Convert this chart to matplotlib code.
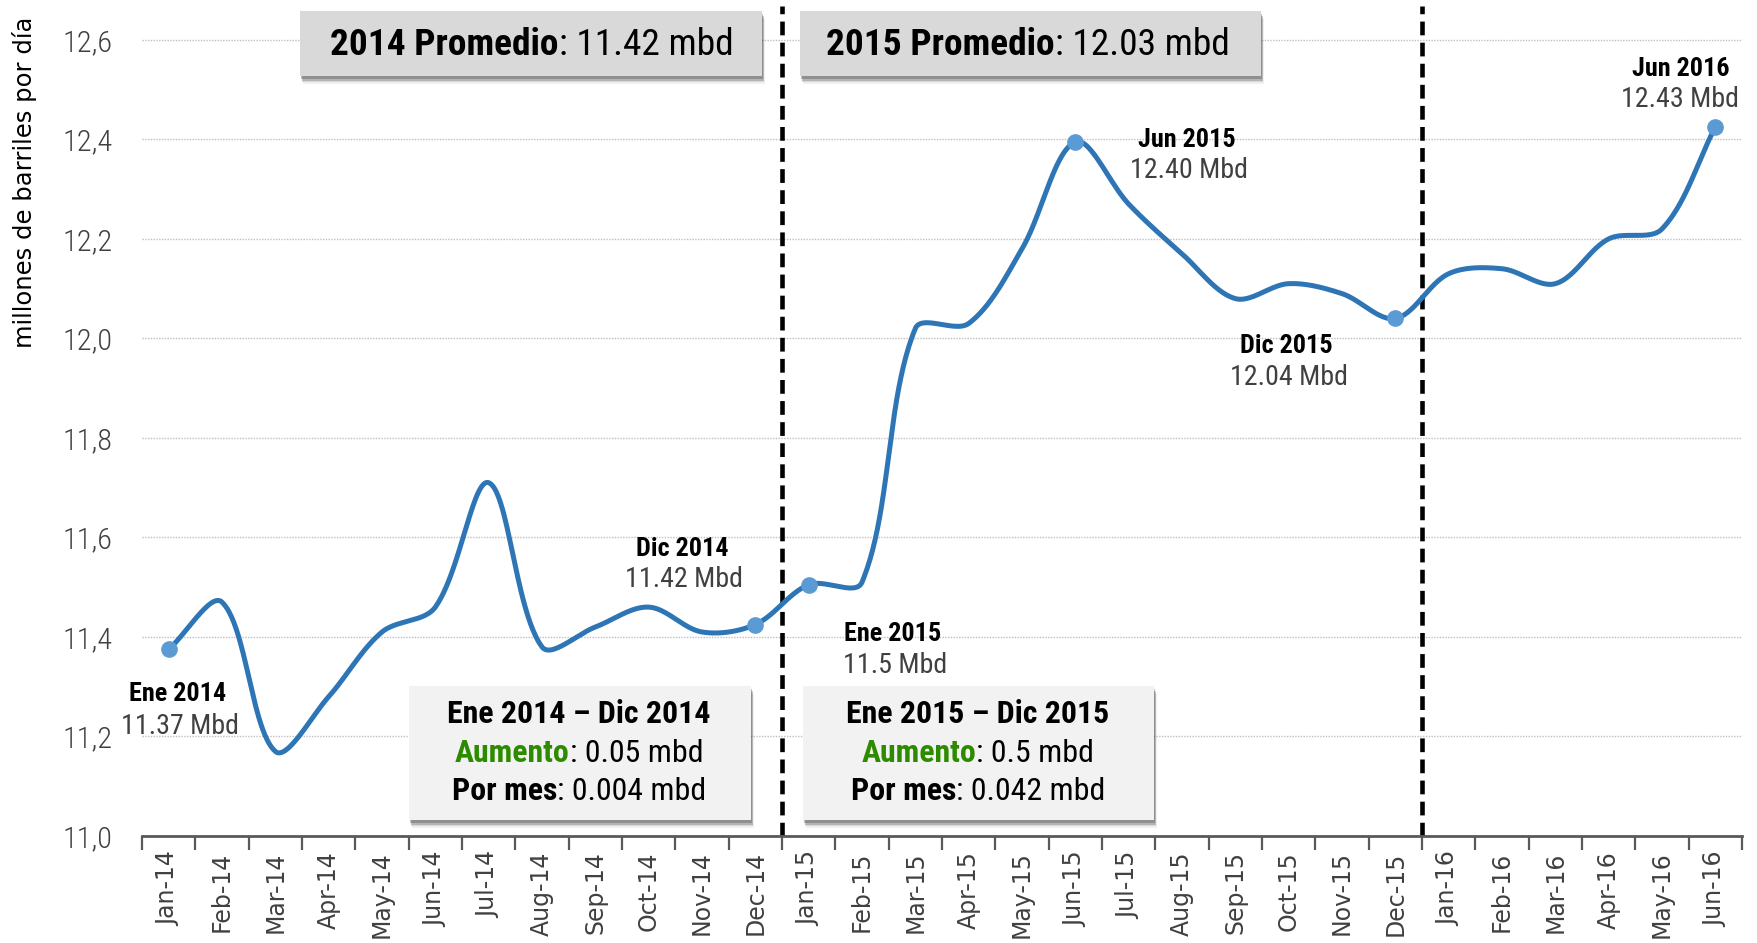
import numpy as np
import matplotlib
matplotlib.use("Agg")
import matplotlib.pyplot as plt
from matplotlib.patches import Rectangle
from matplotlib.transforms import IdentityTransform
from matplotlib import font_manager as fm

# ---------------- data ----------------
months = ["Jan-14", "Feb-14", "Mar-14", "Apr-14", "May-14", "Jun-14", "Jul-14", "Aug-14",
          "Sep-14", "Oct-14", "Nov-14", "Dec-14", "Jan-15", "Feb-15", "Mar-15", "Apr-15",
          "May-15", "Jun-15", "Jul-15", "Aug-15", "Sep-15", "Oct-15", "Nov-15", "Dec-15",
          "Jan-16", "Feb-16", "Mar-16", "Apr-16", "May-16", "Jun-16"]
values = [11.375, 11.47, 11.17, 11.28, 11.41, 11.46, 11.71, 11.38, 11.42, 11.46, 11.41, 11.425,
          11.505, 11.51, 12.02, 12.03, 12.18, 12.395, 12.27, 12.17, 12.08, 12.11, 12.09, 12.04,
          12.13, 12.14, 12.11, 12.20, 12.22, 12.425]
hl_index = [0, 11, 12, 17, 23, 29]
hl_names = ["Ene 2014", "Dic 2014", "Ene 2015", "Jun 2015", "Dic 2015", "Jun 2016"]
hl_values = ["11.37 Mbd", "11.42 Mbd", "11.5 Mbd", "12.40 Mbd", "12.04 Mbd", "12.43 Mbd"]
ytick_values = [11.0, 11.2, 11.4, 11.6, 11.8, 12.0, 12.2, 12.4, 12.6]
ytick_labels = ["11,0", "11,2", "11,4", "11,6", "11,8", "12,0", "12,2", "12,4", "12,6"]
year_splits = [11.5, 23.5]
avg_titles = [("2014 Promedio", ": 11.42 mbd"), ("2015 Promedio", ": 12.03 mbd")]
range_titles = ["Ene 2014 \u2013 Dic 2014", "Ene 2015 \u2013 Dic 2015"]
increase_text = [": 0.05 mbd", ": 0.5 mbd"]
monthly_text = [": 0.004 mbd", ": 0.042 mbd"]
ylabel = "millones de barriles por d\u00eda"

# ---------------- fonts ----------------
names = {f.name for f in fm.fontManager.ttflist}
NARROW = "Liberation Sans"
for cand in ["Liberation Sans Narrow", "Roboto Condensed", "Open Sans Condensed", "Arial Narrow"]:
    if cand in names:
        NARROW = cand
        break
is_narrow = NARROW != "Liberation Sans"
S = 1.12 if is_narrow else 1.0

W, H = 1757, 943
fig = plt.figure(figsize=(W / 100, H / 100), dpi=100)
ax = fig.add_axes([142 / W, 1 - 836 / H, (1742 - 142) / W, (836 - 6) / H])
ax.set_xlim(-0.5, len(values) - 0.5)
ax.set_ylim(11.0, 12.668)

x = np.arange(len(values))
y = np.array(values)

# Excel-like smoothed line: cubic Bezier in screen space, tangents scaled by segment lengths
def smooth(xp, yp, n=50):
    P = ax.transData.transform(np.column_stack([xp, yp]).astype(float))
    Pext = np.vstack([P[0], P, P[-1]])
    out = []
    for i in range(len(P) - 1):
        p0, p1, p2, p3 = Pext[i], Pext[i + 1], Pext[i + 2], Pext[i + 3]
        d01 = np.linalg.norm(p1 - p0)
        d12 = np.linalg.norm(p2 - p1)
        d23 = np.linalg.norm(p3 - p2)
        r1 = d12 / (d01 + d12) if d01 + d12 > 0 else 0.5
        r2 = d12 / (d12 + d23) if d12 + d23 > 0 else 0.5
        c1 = p1 + (p2 - p0) * r1 / 3.0
        c2 = p2 - (p3 - p1) * r2 / 3.0
        t = np.linspace(0, 1, n)[:, None]
        seg = (1 - t) ** 3 * p1 + 3 * (1 - t) ** 2 * t * c1 + 3 * (1 - t) * t ** 2 * c2 + t ** 3 * p2
        out.append(seg if i == 0 else seg[1:])
    s = ax.transData.inverted().transform(np.vstack(out))
    return s[:, 0], s[:, 1]

sx, sy = smooth(x, y)

for xv in year_splits:
    ax.axvline(xv, color="black", lw=3.3, ls=(0, (3.0, 1.6)), zorder=2)

ax.plot(sx, sy, color="#2E75B6", lw=3.6, solid_capstyle="round", zorder=4)
ax.plot(x[hl_index], y[hl_index], "o", color="#5B9BD5", ms=11, mec="#5B9BD5", zorder=5)

# offsets (pixels) for the name / value labels of highlighted points
name_off = [(9, -45), (-73, 76), (84, -49), (111, 2), (-109, -28), (-35, 58)]
val_off = [(11, -77), (-71, 45), (86, -81), (114, -29), (-106, -59), (-35, 27)]
for k, i in enumerate(hl_index):
    ax.annotate(hl_names[k], (x[i], y[i]), xytext=name_off[k], textcoords="offset pixels",
                ha="center", va="center", fontsize=16.8 * S, fontweight="bold", family=NARROW,
                color="black", zorder=6)
    ax.annotate(hl_values[k], (x[i], y[i]), xytext=val_off[k], textcoords="offset pixels",
                ha="center", va="center", fontsize=18 * S, family=NARROW, color="#404040", zorder=6)

# axes styling
ax.set_yticks(ytick_values)
ax.set_yticklabels(ytick_labels, family=NARROW, fontsize=19.5 * S, color="#404040",
                   fontweight="light")
ax.tick_params(axis="y", length=0, pad=21)
ax.set_xticks(x)
ax.set_xticklabels(months, rotation=90, fontsize=17, family="DejaVu Sans", color="#404040")
ax.set_xticks(np.arange(-0.5, len(values), 1), minor=True)
ax.tick_params(axis="x", which="major", length=0, pad=11)
ax.tick_params(axis="x", which="minor", length=10, width=1.6, color="#595959", direction="out")
for sp in ["left", "right", "top"]:
    ax.spines[sp].set_visible(False)
ax.spines["bottom"].set_color("#595959")
ax.spines["bottom"].set_linewidth(2)
ax.spines["bottom"].set_zorder(3)
ax.yaxis.grid(True, linestyle=(0, (1, 1)), color="#BFBFBF", lw=1)
ax.set_axisbelow(True)
fig.text(25 / W, 1 - 182 / H, ylabel, rotation=90, ha="center", va="center",
         fontsize=17.5, family="DejaVu Sans", color="black")

# ---------------- boxes (figure pixel coords, y from top) ----------------
ident = IdentityTransform()

def box(x0, y0, x1, y1, face):
    for k, a in enumerate([0.08, 0.14, 0.22, 0.32]):
        d = 8 - k * 1.7
        fig.patches.append(Rectangle((x0 + 1 + (3 - k) * 0.6, H - y1 - d), x1 - x0, y1 - y0,
                                     transform=ident, facecolor="#404040", edgecolor="none",
                                     alpha=a, zorder=7))
    fig.patches.append(Rectangle((x0, H - y1), x1 - x0, y1 - y0, transform=ident,
                                 facecolor=face, edgecolor="none", zorder=8))

def rich_line(parts, cx, base_y, size):
    renderer = fig.canvas.get_renderer()
    texts = []
    for s, w, c in parts:
        t = fig.text(0, 0, s, fontsize=size, fontweight=w, color=c, family=NARROW,
                     transform=ident, ha="left", va="baseline", zorder=9)
        texts.append(t)
    widths = [t.get_window_extent(renderer).width for t in texts]
    xcur = cx - sum(widths) / 2
    for t, wd in zip(texts, widths):
        t.set_position((xcur, H - base_y))
        xcur += wd

top_boxes = [(300, 11, 762, 76, 532), (800, 11, 1261, 76, 1028)]
for (x0, y0, x1, y1, cx), (b, r) in zip(top_boxes, avg_titles):
    box(x0, y0, x1, y1, "#D9D9D9")
    rich_line([(b, "bold", "black"), (r, "normal", "black")], cx, 55, 24 * S)

bottom_boxes = [(409, 686, 751, 820, 579), (803, 686, 1154, 820, 978)]
for k, (x0, y0, x1, y1, cx) in enumerate(bottom_boxes):
    box(x0, y0, x1, y1, "#F2F2F2")
    rich_line([(range_titles[k], "bold", "black")], cx, 723, 20.5 * S)
    rich_line([("Aumento", "bold", "#2E8B00"), (increase_text[k], "normal", "black")], cx, 762, 20.5 * S)
    rich_line([("Por mes", "bold", "black"), (monthly_text[k], "normal", "black")], cx, 800, 20.5 * S)

fig.savefig("out.png", dpi=100)
